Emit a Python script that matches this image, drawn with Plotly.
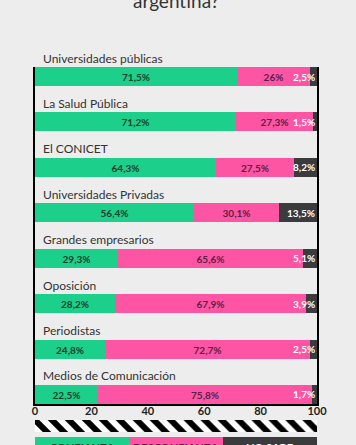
import plotly.graph_objects as go

categories = ["Universidades públicas", "La Salud Pública", "El CONICET",
              "Universidades Privadas", "Grandes empresarios", "Oposición",
              "Periodistas", "Medios de Comunicación"]
confianza = [71.5, 71.2, 64.3, 56.4, 29.3, 28.2, 24.8, 22.5]
desconfianza = [26, 27.3, 27.5, 30.1, 65.6, 67.9, 72.7, 75.8]
no_sabe = [2.5, 1.5, 8.2, 13.5, 5.1, 3.9, 2.5, 1.7]
tick_vals = [0, 20, 40, 60, 80, 100]
legend_labels = ["CONFIANZA", "DESCONFIANZA", "NO SABE"]
legend_widths = [33.33, 33.33, 33.34]
title_text = "argentina?"

GREEN = "#1ccf8a"
PINK = "#fd55a4"
GREY = "#3b3b3d"
GREEN_TXT = "#1b3d2f"
PINK_TXT = "#5a1f47"
FONT = "Lato"

W, H = 356, 445


def fmt(v):
    s = ("%.1f" % v).rstrip("0").rstrip(".")
    return s.replace(".", ",") + "%"


fig = go.Figure()

fig.add_trace(go.Bar(
    y=categories, x=confianza, orientation="h", marker=dict(color=GREEN, line=dict(width=0)),
    text=[fmt(v) for v in confianza], textposition="inside", insidetextanchor="middle",
    textfont=dict(family=FONT, size=10, color=GREEN_TXT, weight="bold"),
    width=0.42, hoverinfo="skip", xaxis="x", yaxis="y"))
fig.add_trace(go.Bar(
    y=categories, x=desconfianza, orientation="h", marker=dict(color=PINK, line=dict(width=0)),
    text=[fmt(v) for v in desconfianza], textposition="inside", insidetextanchor="middle",
    textfont=dict(family=FONT, size=10, color=PINK_TXT, weight="bold"),
    width=0.42, hoverinfo="skip", xaxis="x", yaxis="y"))
fig.add_trace(go.Bar(
    y=categories, x=no_sabe, orientation="h", marker=dict(color=GREY, line=dict(width=0)),
    width=0.42, hoverinfo="skip", xaxis="x", yaxis="y"))

# striped band
fig.add_trace(go.Bar(
    y=["band"], x=[tick_vals[-1]], orientation="h", width=1,
    marker=dict(color="black", line=dict(width=0),
                pattern=dict(shape="\\", fgcolor="black", bgcolor="white", size=12,
                             solidity=0.5, fgopacity=1)),
    hoverinfo="skip", xaxis="x2", yaxis="y2"))

# legend boxes
leg_colors = [GREEN, PINK, GREY]
leg_txt_colors = [GREEN_TXT, PINK_TXT, "white"]
for lab, wdt, col in zip(legend_labels, legend_widths, leg_colors):
    fig.add_trace(go.Bar(
        y=["leg"], x=[wdt], orientation="h", width=1,
        marker=dict(color=col, line=dict(width=0)),
        hoverinfo="skip", xaxis="x3", yaxis="y3"))

annotations = []
for cat in categories:
    annotations.append(dict(
        x=0, y=cat, xref="x", yref="y", text=cat, showarrow=False,
        xanchor="left", yanchor="bottom", xshift=6, yshift=9,
        font=dict(family=FONT, size=12, color="#333333")))

totals = [round(a + b + c, 6) for a, b, c in zip(confianza, desconfianza, no_sabe)]
for cat, tot, ns in zip(categories, totals, no_sabe):
    annotations.append(dict(
        x=tot, y=cat, xref="x", yref="y", text="<b>%s</b>" % fmt(ns), showarrow=False,
        xanchor="right", yanchor="middle", xshift=0,
        font=dict(family=FONT, size=10, color="white")))

start = 0
for lab, wdt, tc in zip(legend_labels, legend_widths, leg_txt_colors):
    annotations.append(dict(
        x=start + wdt / 2, y=0, xref="x3", yref="paper", text="<b>%s</b>" % lab,
        showarrow=False, xanchor="center", yanchor="top", yshift=6,
        font=dict(family=FONT, size=11, color=tc)))
    start += wdt

annotations.append(dict(
    x=0.5, y=1, xref="paper", yref="paper", text=title_text, showarrow=False,
    xanchor="center", yanchor="middle", yshift=0,
    font=dict(family=FONT, size=19, color="#333333")))

fig.update_layout(
    width=W, height=H, barmode="stack", showlegend=False,
    margin=dict(l=35, r=39, t=0, b=0),
    paper_bgcolor="#ededed", plot_bgcolor="rgba(0,0,0,0)",
    bargap=0,
    annotations=annotations,
    xaxis=dict(domain=[0, 1], range=[0, 100], tickvals=tick_vals, ticks="",
               ticklabelstandoff=-4,
               showgrid=False, zeroline=False, showline=True, linecolor="black", linewidth=1.5,
               tickfont=dict(family=FONT, size=11, color="#222222", weight="bold"),
               anchor="y", fixedrange=True),
    yaxis=dict(domain=[41 / H, 378 / H], categoryorder="array", categoryarray=categories,
               range=[7.21, -0.21], showticklabels=False, ticks="", showgrid=False,
               zeroline=False, showline=True, mirror=True, linecolor="black", linewidth=1.5,
               anchor="x", layer="below traces"),
    xaxis2=dict(domain=[0, 1], range=[0, 100], visible=False, anchor="y2"),
    yaxis2=dict(domain=[13 / H, 25 / H], range=[-0.5, 0.5], visible=False, anchor="x2"),
    xaxis3=dict(domain=[0, 1], range=[0, 100], visible=False, anchor="y3"),
    yaxis3=dict(domain=[0, 8 / H], range=[-0.5, 0.5], visible=False, anchor="x3"),
)

fig.write_html("out.html", config={"displayModeBar": False},
               post_script="document.body.style.margin='0';document.body.style.overflow='hidden';")
